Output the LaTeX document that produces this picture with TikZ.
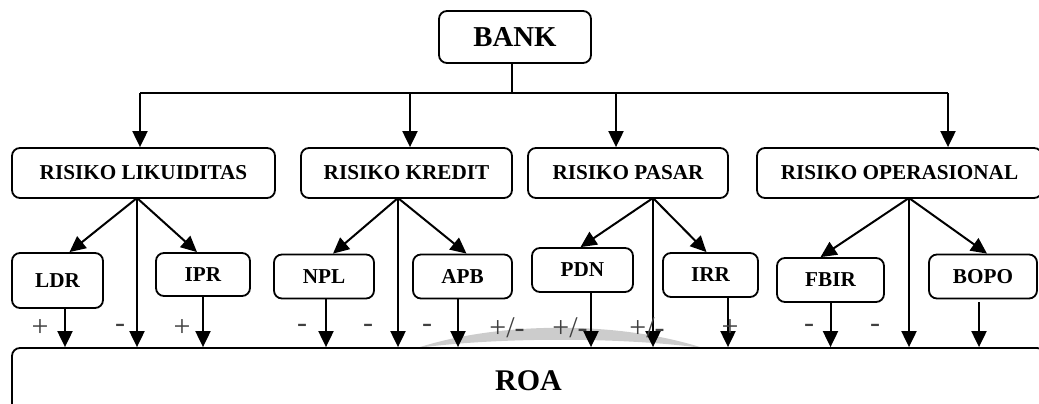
\documentclass[tikz,border=0pt]{standalone}
\usepackage{fontspec}
\setmainfont{Liberation Serif}
\usetikzlibrary{arrows.meta,calc,positioning}

\tikzset{
  box/.style={draw, line width=0.9pt, rounded corners=4pt, font=\bfseries, inner sep=0pt},
  riskbox/.style={box, minimum height=25pt, font=\bfseries\fontsize{10.6}{12}\selectfont},
  ratiobox/.style={box, minimum height=22pt, font=\bfseries\fontsize{10.6}{12}\selectfont},
  arr/.style={line width=1pt, -{Triangle[width=7.5pt,length=8pt]}},
  sign/.style={inner sep=0pt, text=black!75, font=\fontsize{15}{15}\selectfont},
}

\begin{document}
\begin{tikzpicture}[x=0.5pt,y=-0.5pt]
      \useasboundingbox (0,0) rectangle (1039,403);
      \clip (0,0) rectangle (1039,403);
      % grey shade behind the ROA box
      \fill[gray!40] (417,348) .. controls (500,321) and (620,321) .. (703,348)
        .. controls (620,337) and (500,337) .. (417,348) -- cycle;
      % Top
      \node[box, minimum width=76pt, minimum height=26pt, font=\bfseries\fontsize{14.4}{16}\selectfont] (bank) at (515,37) {BANK};
      % Risks
      \node[riskbox, minimum width=131.5pt] (likuid) at (143.5,173) {RISIKO LIKUIDITAS};
      \node[riskbox, minimum width=105.5pt] (kredit) at (406.5,173) {RISIKO KREDIT};
      \node[riskbox, minimum width=100pt] (pasar) at (628,173) {RISIKO PASAR};
      \node[riskbox, minimum width=142.5pt] (operas) at (899.5,173) {RISIKO OPERASIONAL};
      % Ratios
      \node[ratiobox, minimum width=45.5pt, minimum height=27.5pt] (ldr) at (57.5,280.5) {LDR};
      \node[ratiobox, minimum width=47pt, minimum height=21.5pt] (ipr) at (203,274.5) {IPR};
      \node[ratiobox, minimum width=50pt] (npl) at (324,276.5) {NPL};
      \node[ratiobox, minimum width=49.5pt] (apb) at (462.5,276.5) {APB};
      \node[ratiobox, minimum width=50.5pt] (pdn) at (582.5,270) {PDN};
      \node[ratiobox, minimum width=47.5pt] (irr) at (710.5,275) {IRR};
      \node[ratiobox, minimum width=53.5pt] (fbir) at (830.5,280) {FBIR};
      \node[ratiobox, minimum width=54pt] (bopo) at (983,276.5) {BOPO};
      % Bottom
      \node[box, minimum width=516.5pt, minimum height=33pt, font=\bfseries\fontsize{15}{17}\selectfont] (roa) at (528.5,381) {ROA};
      % bus from BANK
      \coordinate (bus) at (512,93);
      \coordinate (busL) at (140,93);
      \coordinate (busK) at (410,93);
      \coordinate (busP) at (616,93);
      \coordinate (busO) at (948,93);
      \draw[line width=1pt] (bank.south -| bus) -- (bus);
      \draw[line width=1pt] (busL) -- (busO);
      \draw[arr] (busL) -- (busL |- likuid.north);
      \draw[arr] (busK) -- (busK |- kredit.north);
      \draw[arr] (busP) -- (busP |- pasar.north);
      \draw[arr] (busO) -- (busO |- operas.north);
      % branch points
      \coordinate (brL) at (137,198);
      \coordinate (brK) at (398,198);
      \coordinate (brP) at (653,198);
      \coordinate (brO) at (909,198);
      \draw[arr] (brL) -- ([xshift=6pt]ldr.north);
      \draw[arr] (brL) -- ([xshift=-3pt]ipr.north);
      \draw[arr] (brL) -- (brL |- roa.north);
      \draw[arr] (brK) -- ([xshift=4.5pt]npl.north);
      \draw[arr] (brK) -- ([xshift=2pt]apb.north);
      \draw[arr] (brK) -- (brK |- roa.north);
      \draw[arr] (brP) -- ([xshift=-1pt]pdn.north);
      \draw[arr] (brP) -- ([xshift=-2pt]irr.north);
      \draw[arr] (brP) -- (brP |- roa.north);
      \draw[arr] (brO) -- ([xshift=-5pt]fbir.north);
      \draw[arr] (brO) -- ([xshift=2pt]bopo.north);
      \draw[arr] (brO) -- (brO |- roa.north);
      % ratios to ROA
      \draw[arr] ([xshift=3.75pt]ldr.south) -- ([xshift=3.75pt]ldr.south |- roa.north);
      \draw[arr] (ipr.south) -- (ipr.south |- roa.north);
      \draw[arr] ([xshift=1pt]npl.south) -- ([xshift=1pt]npl.south |- roa.north);
      \draw[arr] ([xshift=-2.25pt]apb.south) -- ([xshift=-2.25pt]apb.south |- roa.north);
      \draw[arr] ([xshift=4.25pt]pdn.south) -- ([xshift=4.25pt]pdn.south |- roa.north);
      \draw[arr] ([xshift=8.75pt]irr.south) -- ([xshift=8.75pt]irr.south |- roa.north);
      \draw[arr] (fbir.south) -- (fbir.south |- roa.north);
      \draw[arr] ([xshift=-2pt,yshift=-1.5pt]bopo.south) -- ([xshift=-2pt]bopo.south |- roa.north);
      % signs
      \node[sign] (sLdr) at (40,328) {+};
      \node[sign] (sLik) at (120,328) {-};
      \node[sign] (sIpr) at (182,328) {+};
      \node[sign] (sNpl) at (302,328) {-};
      \node[sign] (sKre) at (368,328) {-};
      \node[sign] (sApb) at (427,328) {-};
      \node[sign] (sPas) at (507,328) {+/-};
      \node[sign] (sPdn) at (570,328) {+/-};
      \node[sign] (sIrr) at (647,328) {+/-};
      \node[sign] (sIrr2) at (730,328) {+};
      \node[sign] (sFbir) at (809,328) {-};
      \node[sign] (sOpe) at (875,328) {-};
    \end{tikzpicture}
\end{document}
